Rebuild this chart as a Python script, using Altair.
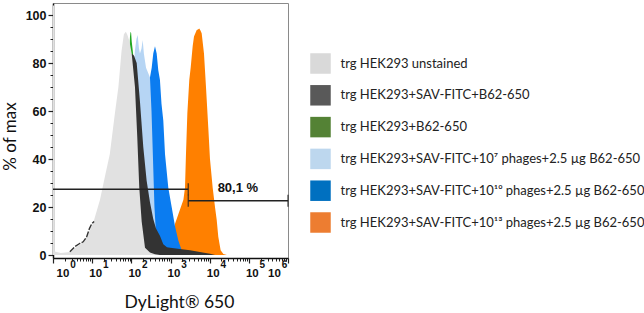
import altair as alt
import pandas as pd

# ---- data (x as log10 of DyLight 650 intensity, y = % of max)
names = [
    "trg HEK293 unstained",
    "trg HEK293+SAV-FITC+B62-650",
    "trg HEK293+B62-650",
    "trg HEK293+SAV-FITC+10\u2077 phages+2.5 \u00b5g B62-650",
    "trg HEK293+SAV-FITC+10\u00b9\u2070 phages+2.5 \u00b5g B62-650",
    "trg HEK293+SAV-FITC+10\u00b9\u00b3 phages+2.5 \u00b5g B62-650",
]
hist_colors = ["#e1e1e1", "#333333", "#23a823", "#b6d5f4", "#0b7cf0", "#ff8000"]
legend_colors = ["#d9d9d9", "#595959", "#548235", "#bdd7ee", "#0070c0", "#ed7d31"]

gray_exp = [0.0, 0.035, 0.045, 0.2, 0.43, 0.6, 0.77, 0.9, 1.03, 1.2, 1.33, 1.45, 1.58, 1.67,
            1.75, 1.81, 1.86, 1.9, 1.953, 2.009, 2.093, 2.152, 2.203, 2.264, 2.349, 2.476, 2.604, 2.73]
gray_pct = [104, 104, 1.5, 0.8, 1.2, 3.3, 5.3, 8.8, 13.5, 23, 33, 42, 59, 70,
            85, 92, 93, 91.7, 89, 84, 70, 49, 28, 14, 3, 1, 0.3, 0]

dark_exp = [1.6, 1.84, 1.915, 1.966, 2.01, 2.07, 2.137, 2.22, 2.305, 2.39, 2.476, 2.56, 2.63,
            2.73, 2.816, 2.91, 2.99, 3.24, 3.5, 3.75, 4.01, 4.14]
dark_pct = [20, 60, 78, 83, 84, 83, 80, 64, 45, 31, 22, 15, 11, 8, 4.5, 3.2, 3, 2.5, 2, 1.2, 0.5, 0]

green_exp = [1.7, 1.9, 1.95, 1.966, 1.98, 1.995, 2.01, 2.03, 2.07, 2.15, 2.3, 2.5, 2.8, 3.0]
green_pct = [10, 60, 85, 91, 93, 92.5, 89, 86, 80, 55, 25, 8, 1, 0]

lblue_exp = [1.9, 1.966, 2.04, 2.09, 2.13, 2.162, 2.195, 2.22, 2.26, 2.29, 2.32, 2.375, 2.425,
             2.476, 2.515, 2.553, 2.59, 2.647, 2.73, 2.86]
lblue_pct = [5, 30, 70, 85, 90, 91.7, 86, 84, 86, 89.6, 84, 78, 76, 74, 60, 40, 20, 4, 1, 0]

blue_exp = [2.2, 2.35, 2.425, 2.476, 2.52, 2.56, 2.604, 2.647, 2.688, 2.73, 2.77, 2.816, 2.86,
            2.944, 3.03, 3.115, 3.2, 3.286, 3.41, 3.6]
blue_pct = [5, 40, 70, 74, 78, 84, 87, 84, 77, 73, 63, 56, 42, 28, 20, 12, 6, 2, 0.7, 0]

orange_exp = [2.94, 3.01, 3.07, 3.115, 3.2, 3.33, 3.37, 3.395, 3.43, 3.48, 3.515, 3.566, 3.6,
              3.67, 3.7, 3.735, 3.765, 3.796, 3.855, 3.906, 3.965, 4.008, 4.077, 4.136, 4.18,
              4.22, 4.28, 4.35, 4.44]
orange_pct = [0, 0.5, 2, 13, 17, 23, 28, 42, 59, 73, 78, 87, 91, 93.7, 94, 94.4, 93.5, 92.4, 84,
              70, 53, 40, 28, 20, 14.6, 7.6, 2, 0.4, 0]

# outline fragment of the SAV-FITC+B62-650 histogram on the left
tail_exp = [0.43, 0.56, 0.69, 0.77, 0.86, 0.93, 0.99, 1.05]
tail_pct = [1.4, 3.5, 4.9, 5.5, 7.6, 11, 13, 14]

# gates
gate_lo = [1, 2846]
gate_hi = [2846, 1e6]
gate_y = [27.4, 22.6]
gate_tick_x = [2846, 2846, 1e6]
gate_tick_y = [27.4, 22.6, 22.6]
gate_label = ["80,1 %"]
gate_label_x = [52500]
gate_label_y = [22.6]

decades = [1, 10, 100, 1000, 10000, 100000, 1000000]
minor_x = [m * d for d in decades[:-1] for m in range(2, 10)]
major_y = [0, 20, 40, 60, 80, 100]
minor_y = [5, 10, 15, 25, 30, 35, 45, 50, 55, 65, 70, 75, 85, 90, 95]

# ---- scales / axes
xscale = alt.Scale(type="log", domain=[1, 1e6], nice=False)
yscale = alt.Scale(domain=[-1.25, 105], nice=False, zero=False)

label_offset = {"condition": [{"test": "datum.value < 2", "value": 9.5},
                              {"test": "datum.value > 500000", "value": -14}],
                "value": 3}
exp_offset = {"condition": [{"test": "datum.value < 2", "value": 19.5},
                            {"test": "datum.value > 500000", "value": -4}],
              "value": 13}

x_major = alt.Axis(values=decades, labelExpr="'10'", orient="bottom",
                   labelFont="Liberation Sans", labelFontWeight="bold", labelFontSize=11.5,
                   labelColor="#111", labelPadding=4, labelOffset=label_offset,
                   labelOverlap=False, labelFlush=False,
                   tickSize=5, tickColor="#222", tickWidth=1.2,
                   domainColor="#111", domainWidth=1.5, grid=False,
                   title="DyLight\u00ae 650", titleFont="Lato", titleFontSize=17.5,
                   titleFontWeight="normal", titleColor="#111",
                   titleX=126, titleY=44, titleBaseline="middle", titleAlign="center")
x_exp = alt.Axis(values=decades, labelExpr="format(log(datum.value)/LN10, '.0f')",
                 orient="bottom", labelFont="Liberation Sans", labelFontWeight="bold",
                 labelFontSize=10, labelColor="#111", labelPadding=1.5, labelOffset=exp_offset,
                 labelOverlap=False, labelFlush=False, ticks=False, tickSize=0,
                 domain=False, grid=False, title=None)
x_minor = alt.Axis(values=minor_x, orient="bottom", labels=False, domain=False, grid=False,
                   tickSize=3, tickColor="#222", tickWidth=1, title=None)
y_major = alt.Axis(values=major_y, orient="left", labelFont="Liberation Sans",
                   labelFontWeight="bold", labelFontSize=12.5, labelColor="#111", labelPadding=2,
                   tickSize=5, tickColor="#222", tickWidth=1.2, domainColor="#111",
                   domainWidth=1.5, grid=False,
                   title="% of max", titleFont="Lato", titleFontSize=17,
                   titleFontWeight="normal", titleColor="#111",
                   titleX=-43, titleY=133, titleBaseline="middle", titleAlign="center",
                   titleAngle=270)
y_minor = alt.Axis(values=minor_y, orient="left", labels=False, domain=False, grid=False,
                   tickSize=3, tickColor="#222", tickWidth=1, title=None)


def hist(idx, exps, pcts, x_axis=None, y_axis=None):
    df = pd.DataFrame({"v": [10 ** e for e in exps], "pct": pcts})
    return alt.Chart(df).mark_area(clip=True, interpolate="linear",
                                   color=hist_colors[idx]).encode(
        x=alt.X("v:Q", scale=xscale, axis=x_axis),
        y=alt.Y("pct:Q", scale=yscale, axis=y_axis),
        y2=alt.datum(0),
    )


orange = hist(5, orange_exp, orange_pct, x_exp, y_minor)
blue = hist(4, blue_exp, blue_pct, x_minor, None)
lblue = hist(3, lblue_exp, lblue_pct)
green = hist(2, green_exp, green_pct)
dark = hist(1, dark_exp, dark_pct)
gray = hist(0, gray_exp, gray_pct, x_major, y_major)

tail_df = pd.DataFrame({"v": [10 ** e for e in tail_exp], "pct": tail_pct})
tail = alt.Chart(tail_df).mark_line(color="#333333", strokeWidth=1.4, strokeDash=[6, 1.5]).encode(
    x=alt.X("v:Q", scale=xscale, axis=None),
    y=alt.Y("pct:Q", scale=yscale, axis=None),
)

gate_df = pd.DataFrame({"lo": gate_lo, "hi": gate_hi, "gy": gate_y})
gates = alt.Chart(gate_df).mark_rule(color="#222", strokeWidth=1.5).encode(
    x=alt.X("lo:Q", scale=xscale, axis=None),
    x2="hi:Q",
    y=alt.Y("gy:Q", scale=yscale, axis=None),
)
tick_df = pd.DataFrame({"tx": gate_tick_x, "ty": gate_tick_y})
gate_ticks = alt.Chart(tick_df).mark_tick(color="#222", orient="vertical", size=12,
                                          thickness=1.5).encode(
    x=alt.X("tx:Q", scale=xscale, axis=None),
    y=alt.Y("ty:Q", scale=yscale, axis=None),
)
lab_df = pd.DataFrame({"lx": gate_label_x, "ly": gate_label_y, "t": gate_label})
gate_text = alt.Chart(lab_df).mark_text(font="Liberation Sans", fontWeight="bold", fontSize=13,
                                        color="#111", dy=-13, baseline="middle",
                                        align="center").encode(
    x=alt.X("lx:Q", scale=xscale, axis=None),
    y=alt.Y("ly:Q", scale=yscale, axis=None),
    text="t:N",
)

legend_df = pd.DataFrame({"series": names, "lv": [1.0] * len(names), "lp": [-50.0] * len(names)})
legend_layer = alt.Chart(legend_df).mark_square(filled=True, clip=True).encode(
    x=alt.X("lv:Q", scale=xscale, axis=None),
    y=alt.Y("lp:Q", scale=yscale, axis=None),
    color=alt.Color("series:N", scale=alt.Scale(domain=names, range=legend_colors),
                    legend=alt.Legend(orient="none", legendX=257, legendY=50, title=None,
                                      symbolType="square", symbolSize=420,
                                      symbolStrokeWidth=0, symbolOpacity=1,
                                      labelFont="Lato", labelFontSize=13, labelColor="#222",
                                      labelLimit=500, labelOffset=9.5, rowPadding=10.8,
                                      padding=0)),
)

chart = alt.layer(
    orange, blue, lblue, green, dark, gray, tail, gates, gate_ticks, gate_text, legend_layer
).resolve_axis(x="independent", y="independent").properties(
    width=235, height=255,
    autosize=alt.AutoSizeParams(type="none"),
    padding={"left": 53, "top": 3, "right": 356, "bottom": 55},
    background="white",
).configure_view(stroke="#8a8a8a", strokeWidth=1)

chart.save("out.html", embed_options={"renderer": "svg", "actions": False})
